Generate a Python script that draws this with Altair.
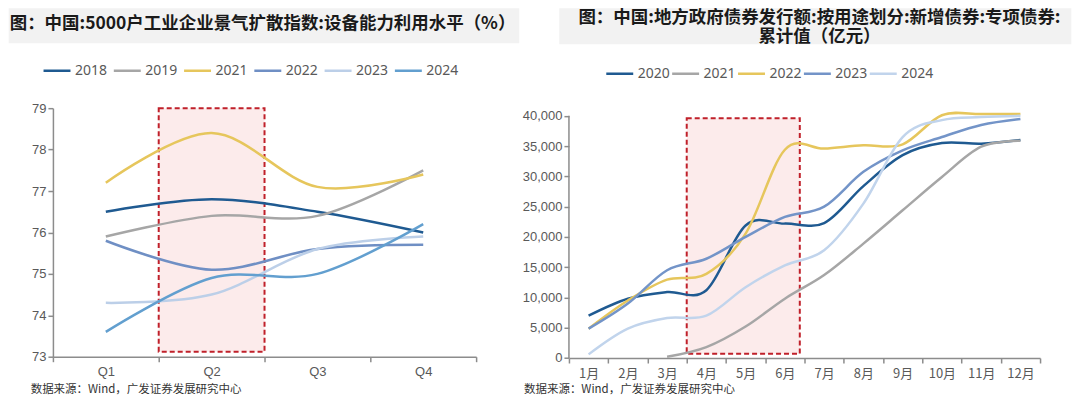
import altair as alt
import pandas as pd

# ---------------- Left panel data ----------------
quarters = ["Q1", "Q2", "Q3", "Q4"]
years_left = ["2018", "2019", "2021", "2022", "2023", "2024"]
util_2018 = [76.5, 76.8, 76.5, 76.0]
util_2019 = [75.9, 76.4, 76.4, 77.5]
util_2021 = [77.2, 78.4, 77.1, 77.4]
util_2022 = [75.8, 75.1, 75.6, 75.7]
util_2023 = [74.3, 74.5, 75.6, 75.9]
util_2024 = [73.6, 74.9, 75.0, 76.2]
colors_left = ["#1f5a91", "#a6a6a6", "#e6c65c", "#6f8fc4", "#bccfe8", "#629fcf"]
left_ticks = [73, 74, 75, 76, 77, 78, 79]
left_domain = [73, 79]
left_highlight = {"x0": 1, "x1": 2, "y0": 73.12, "y1": 79.0}  # quarter-index units

# ---------------- Right panel data ----------------
months = ["1月", "2月", "3月", "4月", "5月", "6月", "7月", "8月", "9月", "10月", "11月", "12月"]
years_right = ["2020", "2021", "2022", "2023", "2024"]
bond_2020 = [7000, 9800, 10900, 11200, 21900, 22200, 22300, 28400, 33500, 35500, 35400, 36000]
bond_2021 = [None, None, 200, 1800, 5200, 9800, 13700, 18900, 24400, 29900, 34900, 35900]
bond_2022 = [4850, 9500, 12950, 13900, 20550, 34400, 34600, 35150, 35300, 40100, 40300, 40300]
bond_2023 = [4850, 9000, 14500, 16400, 20000, 23300, 25000, 30750, 34300, 36500, 38500, 39500]
bond_2024 = [600, 4850, 6600, 7000, 11700, 15300, 17800, 25500, 36500, 39300, 39800, 40000]
colors_right = ["#1f5a91", "#a6a6a6", "#e6c65c", "#7394c8", "#c1d4ec"]
right_ticks = [0, 5000, 10000, 15000, 20000, 25000, 30000, 35000, 40000]
right_axis_span = [0, 40000]
right_domain = [0, 41270]   # a little headroom above the last tick, as in the original
right_highlight = {"x0": 3, "x1": 5.88, "y0": 700, "y1": 39600}  # month-index units

title_left = "图：中国:5000户工业企业景气扩散指数:设备能力利用水平（%）"
title_right = "图：中国:地方政府债券发行额:按用途划分:新增债券:专项债券:\n累计值（亿元）"
source_text = "数据来源：Wind，广发证券发展研究中心"


def long_df(cats, cat_name, series, names):
    rows = []
    for name, vals in zip(names, series):
        for c, v in zip(cats, vals):
            rows.append({cat_name: c, "year": name, "value": v})
    return pd.DataFrame(rows)


df_left = long_df(quarters, "q", [util_2018, util_2019, util_2021, util_2022, util_2023, util_2024], years_left)
df_right = long_df(months, "m", [bond_2020, bond_2021, bond_2022, bond_2023, bond_2024], years_right)
one = pd.DataFrame({"t": [0]})

AX_COL = "#8c8c8c"
LAB_COL = "#595959"
CJK = "Noto Sans CJK SC"


def axis_common(**kw):
    base = dict(title=None, grid=False, domainColor=AX_COL, tickColor=AX_COL, domainWidth=1.5,
                tickWidth=1.5, tickSize=5, labelColor=LAB_COL, labelFontSize=13)
    base.update(kw)
    return alt.Axis(**base)


def legend(x, y, pad):
    return alt.Legend(orient="none", legendX=x, legendY=y, direction="horizontal", title=None,
                      symbolType="stroke", symbolSize=729, symbolStrokeWidth=2.5,
                      labelFontSize=14, labelColor=LAB_COL, labelFont="Noto Sans",
                      columnPadding=pad, labelOffset=3, padding=0)


def title_box(x0, x1, y0, y1):
    return alt.Chart(one).mark_rect(color="#f2f2f2").encode(
        x=alt.value(x0), x2=alt.value(x1), y=alt.value(y0), y2=alt.value(y1))


def text_at(txt, x, y, align="left", size=17, weight="bold", color="#1a1a1a", lh=20):
    return alt.Chart(pd.DataFrame({"t": [txt]})).mark_text(
        align=align, baseline="middle", font=CJK, fontSize=size, fontWeight=weight,
        color=color, lineBreak="\n", lineHeight=lh).encode(
        text="t:N", x=alt.value(x), y=alt.value(y))


def highlight(h, ndom, yenc):
    d = pd.DataFrame({k: [v] for k, v in h.items()})
    return alt.Chart(d).mark_rect(fill="#fcebeb", stroke="#c0202a", strokeDash=[5, 3],
                                  strokeWidth=2).encode(
        x=alt.X("x0:Q", scale=alt.Scale(domain=[0, ndom], nice=False, zero=False), axis=None),
        x2="x1:Q",
        y=yenc("y0:Q"),
        y2="y1:Q")


# ---------------- Left panel ----------------
W1, H1 = 424, 249


def y_left(field):
    return alt.Y(field, scale=alt.Scale(domain=left_domain, nice=False, zero=False),
                 axis=axis_common(values=left_ticks, labelPadding=2, labelFont="Liberation Sans"))


left_lines = alt.Chart(df_left).mark_line(interpolate="cardinal", strokeWidth=2.5).encode(
    x=alt.X("q:N", sort=quarters, bandPosition=0.5,
            scale=alt.Scale(type="band", paddingInner=0, paddingOuter=0),
            axis=axis_common(labelAngle=0, tickBand="extent", labelPadding=4,
                             labelFont="Liberation Sans")),
    y=y_left("value:Q"),
    color=alt.Color("year:N", sort=years_left,
                    scale=alt.Scale(domain=years_left, range=colors_left),
                    legend=legend(-10.9, -52.5, 0.4)),
)

left = alt.layer(
    title_box(-44.3, 467.2, -100, -65),
    text_at(title_left, -43.3, -84, size=17.5),
    highlight(left_highlight, 4, y_left),
    left_lines,
    text_at(source_text, -22.3, 282, size=11.5, weight="normal", color="#333333"),
).resolve_scale(x="independent").properties(width=W1, height=H1)

# ---------------- Right panel ----------------
W2, H2 = 472, 250.3


def y_right(field):
    return alt.Y(field, scale=alt.Scale(domain=right_domain, nice=False, zero=False),
                 axis=axis_common(values=right_ticks, format=",.0f", labelPadding=2,
                                  labelFont="Liberation Sans", domain=False))


right_lines = alt.Chart(df_right).mark_line(interpolate="cardinal", strokeWidth=2.5).encode(
    x=alt.X("m:N", sort=months, bandPosition=0.5,
            scale=alt.Scale(type="band", paddingInner=0, paddingOuter=0),
            axis=axis_common(labelAngle=0, tickBand="extent", labelPadding=5, labelFont=CJK)),
    y=y_right("value:Q"),
    color=alt.Color("year:N", sort=years_right,
                    scale=alt.Scale(domain=years_right, range=colors_right),
                    legend=legend(35.9, -49.5, -8.5)),
)

# y-axis line spanning only the tick range (0 .. 40,000)
right_axis_line = alt.Chart(pd.DataFrame({"a": [right_axis_span[0]], "b": [right_axis_span[1]]})).mark_rule(
    color=AX_COL, strokeWidth=1.5).encode(x=alt.value(0), y=y_right("a:Q"), y2="b:Q")

spacer = alt.Chart(one).mark_rect(opacity=0).encode(
    x=alt.value(-48.2), x2=alt.value(-47.2), y=alt.value(0), y2=alt.value(1))

right = alt.layer(
    spacer,
    title_box(-9.7, 503.3, -100, -64),
    text_at(title_right, 251, -90, align="center", size=17.5, lh=18.5),
    highlight(right_highlight, 12, y_right),
    right_lines,
    right_axis_line,
    text_at(source_text, -45, 282, size=11.5, weight="normal", color="#333333"),
).resolve_scale(x="independent").properties(width=W2, height=H2)

chart = alt.hconcat(left, right, spacing=0).resolve_scale(
    color="independent", x="independent", y="independent"
).properties(padding=0, background="white").configure_view(stroke=None)

chart.save("out.html", embed_options={"renderer": "svg", "actions": False})
